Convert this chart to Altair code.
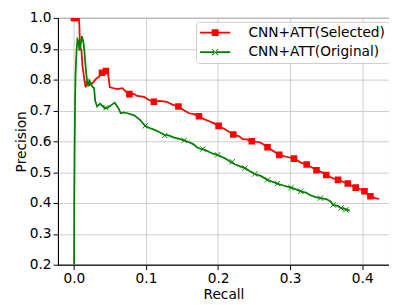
import altair as alt
import pandas as pd

SERIES = ["CNN+ATT(Selected)", "CNN+ATT(Original)"]
COLORS = ["#ff0000", "#008000"]

# Precision-recall curve, selected
sel_recall = [0.0003, 0.007, 0.0077, 0.0084, 0.0105, 0.0118, 0.0145, 0.0163, 0.0186, 0.0227,
              0.0268, 0.0308, 0.0349, 0.039, 0.0431, 0.0471, 0.0485, 0.0499, 0.0553, 0.0607,
              0.0675, 0.073, 0.077, 0.0838, 0.0879, 0.0974, 0.1042, 0.111, 0.1192, 0.1287,
              0.1368, 0.145, 0.1531, 0.1599, 0.1667, 0.1735, 0.1803, 0.1871, 0.1939, 0.2007,
              0.2102, 0.2211, 0.2292, 0.2346, 0.24, 0.2468, 0.2577, 0.2645, 0.2686, 0.2781,
              0.2849, 0.2944, 0.3053, 0.3148, 0.3229, 0.3297, 0.3365, 0.3433, 0.3501, 0.3583,
              0.3664, 0.3732, 0.38, 0.3854, 0.3909, 0.3977, 0.4031, 0.4072, 0.4113, 0.4181, 0.4235]
sel_precision = [1.0, 1.0, 0.972, 0.909, 0.894, 0.847, 0.8, 0.775, 0.791, 0.784,
                 0.791, 0.803, 0.809, 0.822, 0.828, 0.825, 0.8, 0.775, 0.772, 0.769,
                 0.772, 0.759, 0.753, 0.753, 0.747, 0.744, 0.734, 0.728, 0.731, 0.728,
                 0.719, 0.713, 0.7, 0.691, 0.688, 0.681, 0.672, 0.666, 0.659, 0.65,
                 0.638, 0.622, 0.616, 0.606, 0.606, 0.6, 0.597, 0.588, 0.581, 0.566,
                 0.556, 0.55, 0.544, 0.531, 0.525, 0.516, 0.506, 0.5, 0.491, 0.481,
                 0.475, 0.469, 0.463, 0.456, 0.45, 0.444, 0.438, 0.428, 0.422, 0.416, 0.413]

# Precision-recall curve, original
orig_recall = [0.0003, 0.0005, 0.001, 0.0016, 0.0023, 0.0037, 0.005, 0.0064, 0.0077, 0.0091,
               0.0111, 0.0132, 0.0145, 0.0159, 0.0173, 0.0186, 0.02, 0.0213, 0.0227, 0.0254,
               0.0281, 0.0295, 0.0322, 0.0363, 0.039, 0.0431, 0.0471, 0.0526, 0.0567, 0.0621,
               0.0649, 0.069, 0.0743, 0.0838, 0.092, 0.0988, 0.1042, 0.111, 0.1178, 0.1246,
               0.1314, 0.1382, 0.145, 0.1531, 0.1599, 0.1654, 0.1708, 0.1762, 0.1817, 0.1871,
               0.1939, 0.1993, 0.2048, 0.2102, 0.217, 0.2238, 0.2306, 0.2374, 0.2442, 0.2509,
               0.2591, 0.2686, 0.2754, 0.2822, 0.2917, 0.3012, 0.308, 0.3148, 0.3216, 0.3284,
               0.3352, 0.342, 0.3501, 0.3556, 0.3596, 0.3651, 0.3705, 0.3759, 0.3827]
orig_precision = [0.2, 0.409, 0.566, 0.722, 0.816, 0.894, 0.931, 0.925, 0.894, 0.909,
                  0.941, 0.922, 0.894, 0.853, 0.816, 0.791, 0.778, 0.797, 0.791, 0.778,
                  0.772, 0.731, 0.713, 0.722, 0.716, 0.706, 0.709, 0.719, 0.725, 0.706,
                  0.691, 0.694, 0.691, 0.684, 0.669, 0.65, 0.644, 0.638, 0.631, 0.622,
                  0.619, 0.613, 0.609, 0.603, 0.597, 0.591, 0.581, 0.575, 0.572, 0.566,
                  0.559, 0.556, 0.55, 0.544, 0.534, 0.525, 0.519, 0.513, 0.503, 0.494,
                  0.488, 0.475, 0.469, 0.463, 0.456, 0.45, 0.444, 0.438, 0.434, 0.425,
                  0.419, 0.416, 0.413, 0.406, 0.394, 0.391, 0.384, 0.381, 0.375]

# Marker positions
sel_mark_recall = [0.0, 0.0025, 0.039, 0.0444, 0.077, 0.111, 0.145, 0.1735, 0.2007, 0.2211,
                   0.2468, 0.2686, 0.2849, 0.3053, 0.3229, 0.3365, 0.3501, 0.3664, 0.38,
                   0.3909, 0.4031, 0.4113]
sel_mark_precision = [1.0, 1.0, 0.822, 0.828, 0.753, 0.728, 0.713, 0.681, 0.65, 0.622,
                      0.6, 0.581, 0.556, 0.544, 0.525, 0.506, 0.491, 0.475, 0.463,
                      0.45, 0.438, 0.422]
orig_mark_recall = [0.0186, 0.0444, 0.0988, 0.126, 0.1531, 0.1789, 0.1993, 0.2197, 0.2374,
                    0.2509, 0.2686, 0.2822, 0.3012, 0.3148, 0.342, 0.3596, 0.3705, 0.3773]
orig_mark_precision = [0.788, 0.709, 0.65, 0.619, 0.603, 0.575, 0.556, 0.534, 0.513,
                       0.494, 0.475, 0.463, 0.45, 0.438, 0.416, 0.394, 0.384, 0.378]

x_ticks = [0.0, 0.1, 0.2, 0.3, 0.4]
y_ticks = [0.2, 0.3, 0.4, 0.5, 0.6, 0.7, 0.8, 0.9, 1.0]

sel_df = pd.DataFrame({"recall": sel_recall, "precision": sel_precision,
                       "idx": range(len(sel_recall))})
orig_df = pd.DataFrame({"recall": orig_recall, "precision": orig_precision,
                        "idx": range(len(orig_recall))})
sel_marks = pd.DataFrame({"recall": sel_mark_recall, "precision": sel_mark_precision})
orig_marks = pd.DataFrame({"recall": orig_mark_recall, "precision": orig_mark_precision})
legend_df = pd.DataFrame({"series": SERIES})

FONT = "DejaVu Sans"
xscale = alt.Scale(domain=[-0.0221, 0.4371], nice=False, zero=False)
yscale = alt.Scale(domain=[0.2, 1.0], nice=False, zero=False)
xaxis = alt.Axis(values=x_ticks, format=".1f", title="Recall", tickSize=5, labelPadding=2,
                 titlePadding=3, grid=True, labelOverlap=False)
yaxis = alt.Axis(values=y_ticks, format=".1f", title="Precision", tickSize=5, labelPadding=2,
                 titlePadding=1, grid=True, labelOverlap=False)

X = alt.X("recall:Q", scale=xscale, axis=xaxis)
Y = alt.Y("precision:Q", scale=yscale, axis=yaxis)

sel_line = alt.Chart(sel_df).mark_line(strokeWidth=1.8, color=COLORS[0], clip=True).encode(
    x=X, y=Y, order="idx:Q")
orig_line = alt.Chart(orig_df).mark_line(strokeWidth=1.8, color=COLORS[1], clip=True).encode(
    x=X, y=Y, order="idx:Q")

sq_layer = alt.Chart(sel_marks).mark_square(size=45, color=COLORS[0], opacity=1, clip=True).encode(
    x=X, y=Y)
x_layer = alt.Chart(orig_marks).mark_point(
    shape="M-1,-1L1,1M-1,1L1,-1", size=30, filled=False, color=COLORS[1],
    strokeWidth=1, opacity=1, clip=True
).encode(x=X, y=Y)

# legend glyphs drawn as filled outlines: a thin bar with a square / an x on it
BAR = "M-2.2,-0.12L2.2,-0.12L2.2,0.12L-2.2,0.12Z"
LEG_SHAPES = [
    BAR + "M-0.5,-0.5L0.5,-0.5L0.5,0.5L-0.5,0.5Z",
    BAR + "M-0.38,-0.48L0.48,0.38L0.38,0.48L-0.48,-0.38Z"
          "M-0.38,0.48L0.48,-0.38L0.38,-0.48L-0.48,0.38Z",
]
leg = alt.Legend(
    title=None, orient="none", legendX=141, legendY=4, padding=4,
    symbolSize=196, symbolOffset=8.5, labelOffset=27, rowPadding=6,
    labelFont=FONT, labelFontSize=14, labelColor="#000000", labelLimit=300,
    strokeColor="#cccccc", fillColor="rgba(255,255,255,0.8)", cornerRadius=3,
    symbolStrokeWidth=0, symbolOpacity=1,
)
legend_layer = alt.Chart(legend_df).mark_point(filled=True, strokeWidth=0, clip=True).encode(
    x=alt.value(-60), y=alt.value(-60),
    color=alt.Color("series:N", scale=alt.Scale(domain=SERIES, range=COLORS), legend=leg),
    shape=alt.Shape("series:N", scale=alt.Scale(domain=SERIES, range=LEG_SHAPES), legend=leg),
)

chart = alt.layer(sel_line, orig_line, sq_layer, x_layer, legend_layer).properties(
    width=338, height=252,
    padding={"left": 51, "top": 7, "right": 0, "bottom": 38},
    autosize=alt.AutoSizeParams(type="none"),
).configure_view(
    stroke="#000000", strokeWidth=1
).configure_axis(
    labelFont=FONT, labelFontSize=14, labelColor="#000000",
    titleFont=FONT, titleFontSize=14, titleFontWeight="normal", titleColor="#000000",
    domainColor="#000000", domainWidth=1, tickColor="#000000", tickWidth=1,
    gridColor="#cccccc", gridWidth=1,
)

chart.save("out.html", embed_options={"renderer": "svg", "actions": False})
